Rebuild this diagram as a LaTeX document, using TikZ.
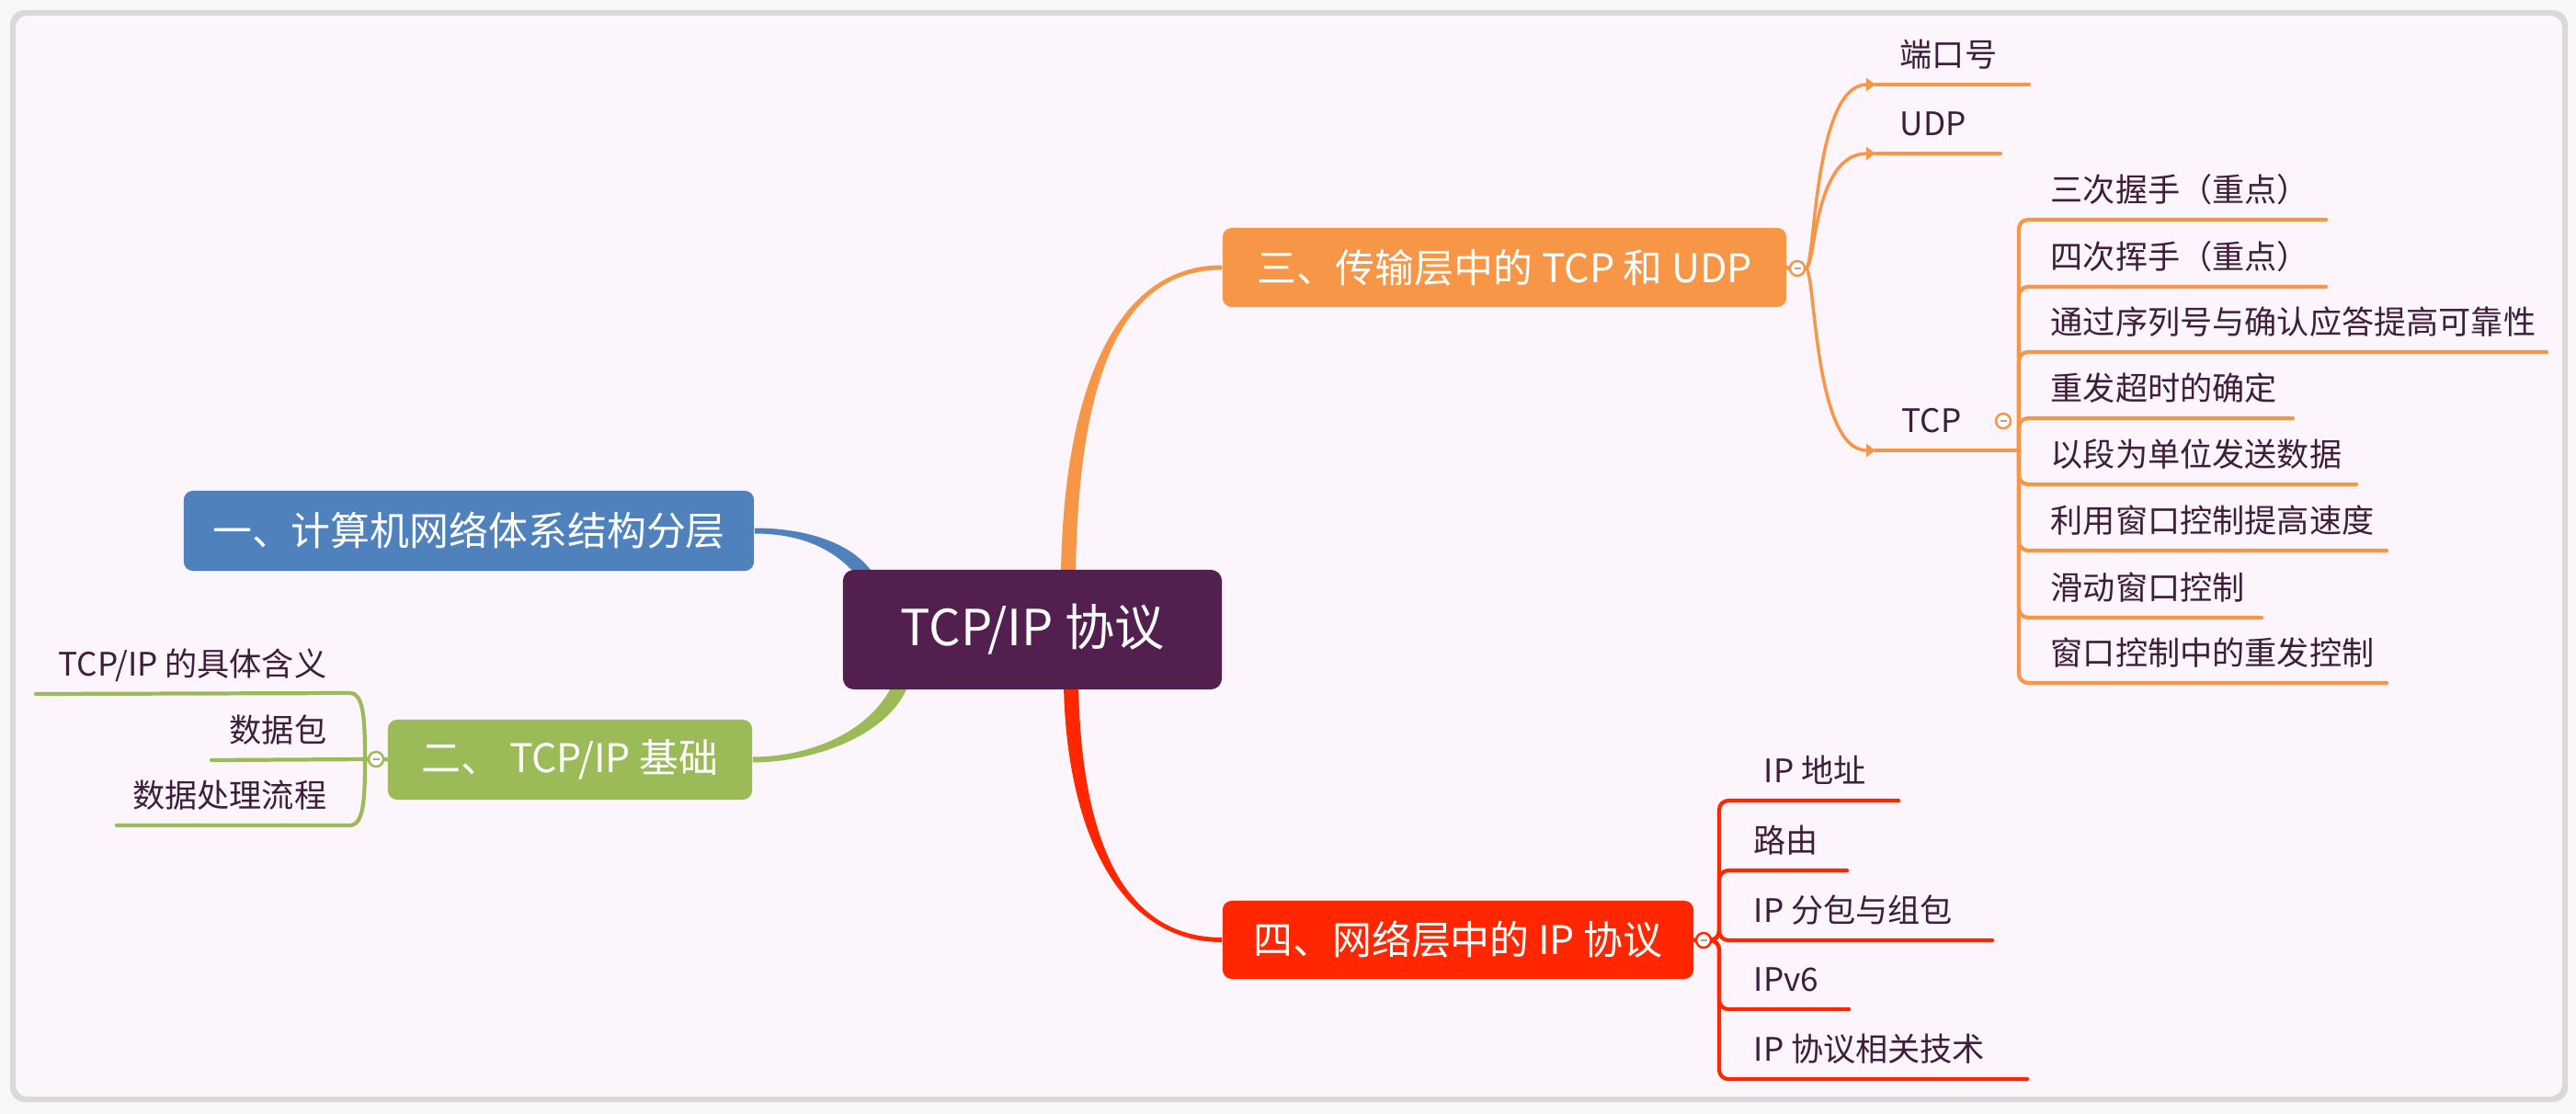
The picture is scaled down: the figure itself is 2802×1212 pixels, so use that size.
\documentclass[tikz,border=0pt]{standalone}
\usepackage{fontspec}
\setmainfont{Noto Sans CJK SC}
\usetikzlibrary{calc,arrows.meta}
\definecolor{bgout}{HTML}{F7F7F7}
\definecolor{panelrim}{HTML}{D9D9D9}
\definecolor{panel}{HTML}{FCF5FB}
\definecolor{cRoot}{HTML}{521F4F}
\definecolor{cBlue}{HTML}{4F81BD}
\definecolor{cGreen}{HTML}{9BBB59}
\definecolor{cOrange}{HTML}{F79646}
\definecolor{cRed}{HTML}{FF2600}
\definecolor{cText}{HTML}{3F1D3C}
\pgfdeclarelayer{back}
\pgfdeclarelayer{conn}
\pgfsetlayers{back,conn,main}
\tikzset{
  rootbox/.style={fill=cRoot, rounded corners=1.2mm, text=white, inner sep=0pt,
    minimum width=4.12cm, minimum height=1.30cm, font=\fontsize{15.4}{18}\selectfont},
  branch/.style={rounded corners=1mm, text=white, inner sep=0pt,
    font=\fontsize{12.2}{14}\selectfont},
  leaf/.style={text=cText, inner sep=0pt, font=\fontsize{10}{12}\selectfont},
  lnk/.style={line width=1.2pt, rounded corners=1mm, line cap=round},
  curv/.style={line width=1.0pt},
  tip/.style={-{Triangle[length=1mm,width=1.4mm]}},
  knob/.style={circle, draw, fill=white, minimum size=0.16cm, inner sep=0pt, line width=0.7pt,
    path picture={\draw[black!35, line width=0.5pt]
      ($(path picture bounding box.center)+(-3.5,0)$) -- ($(path picture bounding box.center)+(3.5,0)$);}}
}
\newcommand\mmtaper[7]{%
  \fill[#1] ($#2+(#6)$) .. controls ($#3+(#6)$) and ($#4+(#7)$) .. ($#5+(#7)$)
    -- ($#5-(#7)$) .. controls ($#4-(#7)$) and ($#3-(#6)$) .. ($#2-(#6)$) -- cycle;}
\begin{document}
\begin{tikzpicture}[x=0.01cm,y=-0.01cm]
\useasboundingbox (0,0) rectangle (2802,1212);

% ---------- main nodes ----------
\node[rootbox] (root) at (1123,685) {TCP/IP 协议};
\node[branch, fill=cBlue, minimum width=6.20cm, minimum height=0.87cm] (b1) at (510,577.5) {一、计算机网络体系结构分层};
\node[branch, fill=cGreen, minimum width=3.96cm, minimum height=0.87cm] (b2) at (620,826.5) {二、 TCP/IP 基础};
\node[branch, fill=cOrange, minimum width=6.13cm, minimum height=0.86cm] (b3) at (1636.5,291) {三、传输层中的 TCP 和 UDP};
\node[branch, fill=cRed, minimum width=5.12cm, minimum height=0.85cm] (b4) at (1586,1022.5) {四、网络层中的 IP 协议};

% ---------- knobs ----------
\node[knob, draw=cOrange] (k3) at (1955,292) {};
\node[knob, draw=cOrange] (k33) at (2179,458) {};
\node[knob, draw=cGreen] (k2) at (409,826) {};
\node[knob, draw=cRed] (k4) at (1853,1023) {};

% ---------- orange leaves ----------
\node[leaf, anchor=base west] (l31) at (2066,72) {端口号};
\node[leaf, anchor=base west] (l32) at (2066,147) {UDP};
\node[leaf, anchor=base west] (l33) at (2068,470) {TCP};
\coordinate (u31s) at (2040,92);  \coordinate (u31e) at (2207,92);
\coordinate (u32s) at (2040,167); \coordinate (u32e) at (2176,167);
\coordinate (u33s) at (2040,490); \coordinate (u33e) at (2188,490);
\coordinate (tcpj) at (2196,490);

\foreach \n/\y/\xe/\t in {1/239/2530/三次握手（重点）, 2/312/2530/四次挥手（重点）,
    3/383/2770/通过序列号与确认应答提高可靠性, 4/455/2494/重发超时的确定,
    5/527/2563/以段为单位发送数据, 6/599/2596/利用窗口控制提高速度,
    7/672/2460/滑动窗口控制, 8/743/2596/窗口控制中的重发控制}{
  \node[leaf, anchor=base west] (t\n) at (2230,\y-20) {\t};
  \coordinate (te\n) at (\xe,\y);
}

% ---------- green leaves ----------
\node[leaf, anchor=base east] (l21) at (356,735) {TCP/IP 的具体含义};
\node[leaf, anchor=base east] (l22) at (356,807) {数据包};
\node[leaf, anchor=base east] (l23) at (356,878) {数据处理流程};
\coordinate (g1) at (39,755);
\coordinate (g2) at (230,827);
\coordinate (g3) at (127,898);

% ---------- red leaves ----------
\node[leaf, anchor=base west] (l41) at (1918,851) {IP 地址};
\node[leaf, anchor=base west] (l42) at (1907,927) {路由};
\node[leaf, anchor=base west] (l43) at (1907,1003) {IP 分包与组包};
\node[leaf, anchor=base west] (l44) at (1907,1078) {IPv6};
\node[leaf, anchor=base west] (l45) at (1907,1154) {IP 协议相关技术};
\coordinate (r1) at (2065,871);
\coordinate (r2) at (2009,947);
\coordinate (r3) at (2167,1023);
\coordinate (r4) at (2011,1098);
\coordinate (r5) at (2205,1174);

% ---------- background panel ----------
\begin{pgfonlayer}{back}
  \fill[bgout] (0,0) rectangle (2802,1212);
  \fill[panelrim, rounded corners=1.6mm] (11,11) rectangle (2793,1199);
  \fill[panel, rounded corners=1.3mm] (17,17) rectangle (2787,1193);
\end{pgfonlayer}

% ---------- connectors ----------
\begin{pgfonlayer}{conn}
  % tapered main branches
  \coordinate (oA) at ($(root.north)+(39,5)$);
  \coordinate (rA) at ($(root.south)+(42,-5)$);
  \coordinate (bA) at ($(root.north west)+(24,5)$);
  \coordinate (gA) at ($(root.south west)+(63,-5)$);
  \mmtaper{cOrange}{(oA)}{(1165,420)}{(1215,291)}{(b3.west)}{8,0}{0,2.5}
  \mmtaper{cRed}{(rA)}{(1168,900)}{(1215,1022.5)}{(b4.west)}{-8,0}{0,2.5}
  \mmtaper{cBlue}{(bA)}{(915,592)}{(870,577.5)}{(b1.east)}{6.5,-4.6}{0,-3}
  \mmtaper{cGreen}{(gA)}{(955,800)}{(880,826.5)}{(b2.east)}{-7.3,-3.3}{0,-3}

  % orange subtree
  \draw[cOrange, lnk] (b3.east) -- (k3.west);
  \draw[cOrange, curv, tip] (k3.east) .. controls (1975,292) and (1972,92) .. (u31s);
  \draw[cOrange, curv, tip] (k3.east) .. controls (1975,292) and (1972,167) .. (u32s);
  \draw[cOrange, curv, tip] (k3.east) .. controls (1975,292) and (1972,490) .. (u33s);
  \draw[cOrange, lnk] (u31s) -- (u31e);
  \draw[cOrange, lnk] (u32s) -- (u32e);
  \draw[cOrange, lnk] (u33s) -- (u33e) -- (tcpj);
  \foreach \n in {1,...,8}{
    \draw[cOrange, lnk] (tcpj) |- (te\n);
  }

  % green subtree (curved bracket)
  \draw[cGreen, lnk] (b2.west) -- (k2.east);
  \draw[cGreen, line width=1.2pt, line cap=round] (k2.west) -- (397,826)
     .. controls (397,778) and (395,754) .. (380,754) -- (g1);
  \draw[cGreen, lnk] (k2.west) -- (g2);
  \draw[cGreen, line width=1.2pt, line cap=round] (k2.west) -- (397,826)
     .. controls (397,874) and (395,898) .. (380,898) -- (g3);

  % red subtree
  \draw[cRed, lnk] (b4.east) -- (k4.west);
  \foreach \n in {1,...,5}{
    \draw[cRed, lnk] (k4.east) -- (1870,1023) |- (r\n);
  }
\end{pgfonlayer}
\end{tikzpicture}
\end{document}
